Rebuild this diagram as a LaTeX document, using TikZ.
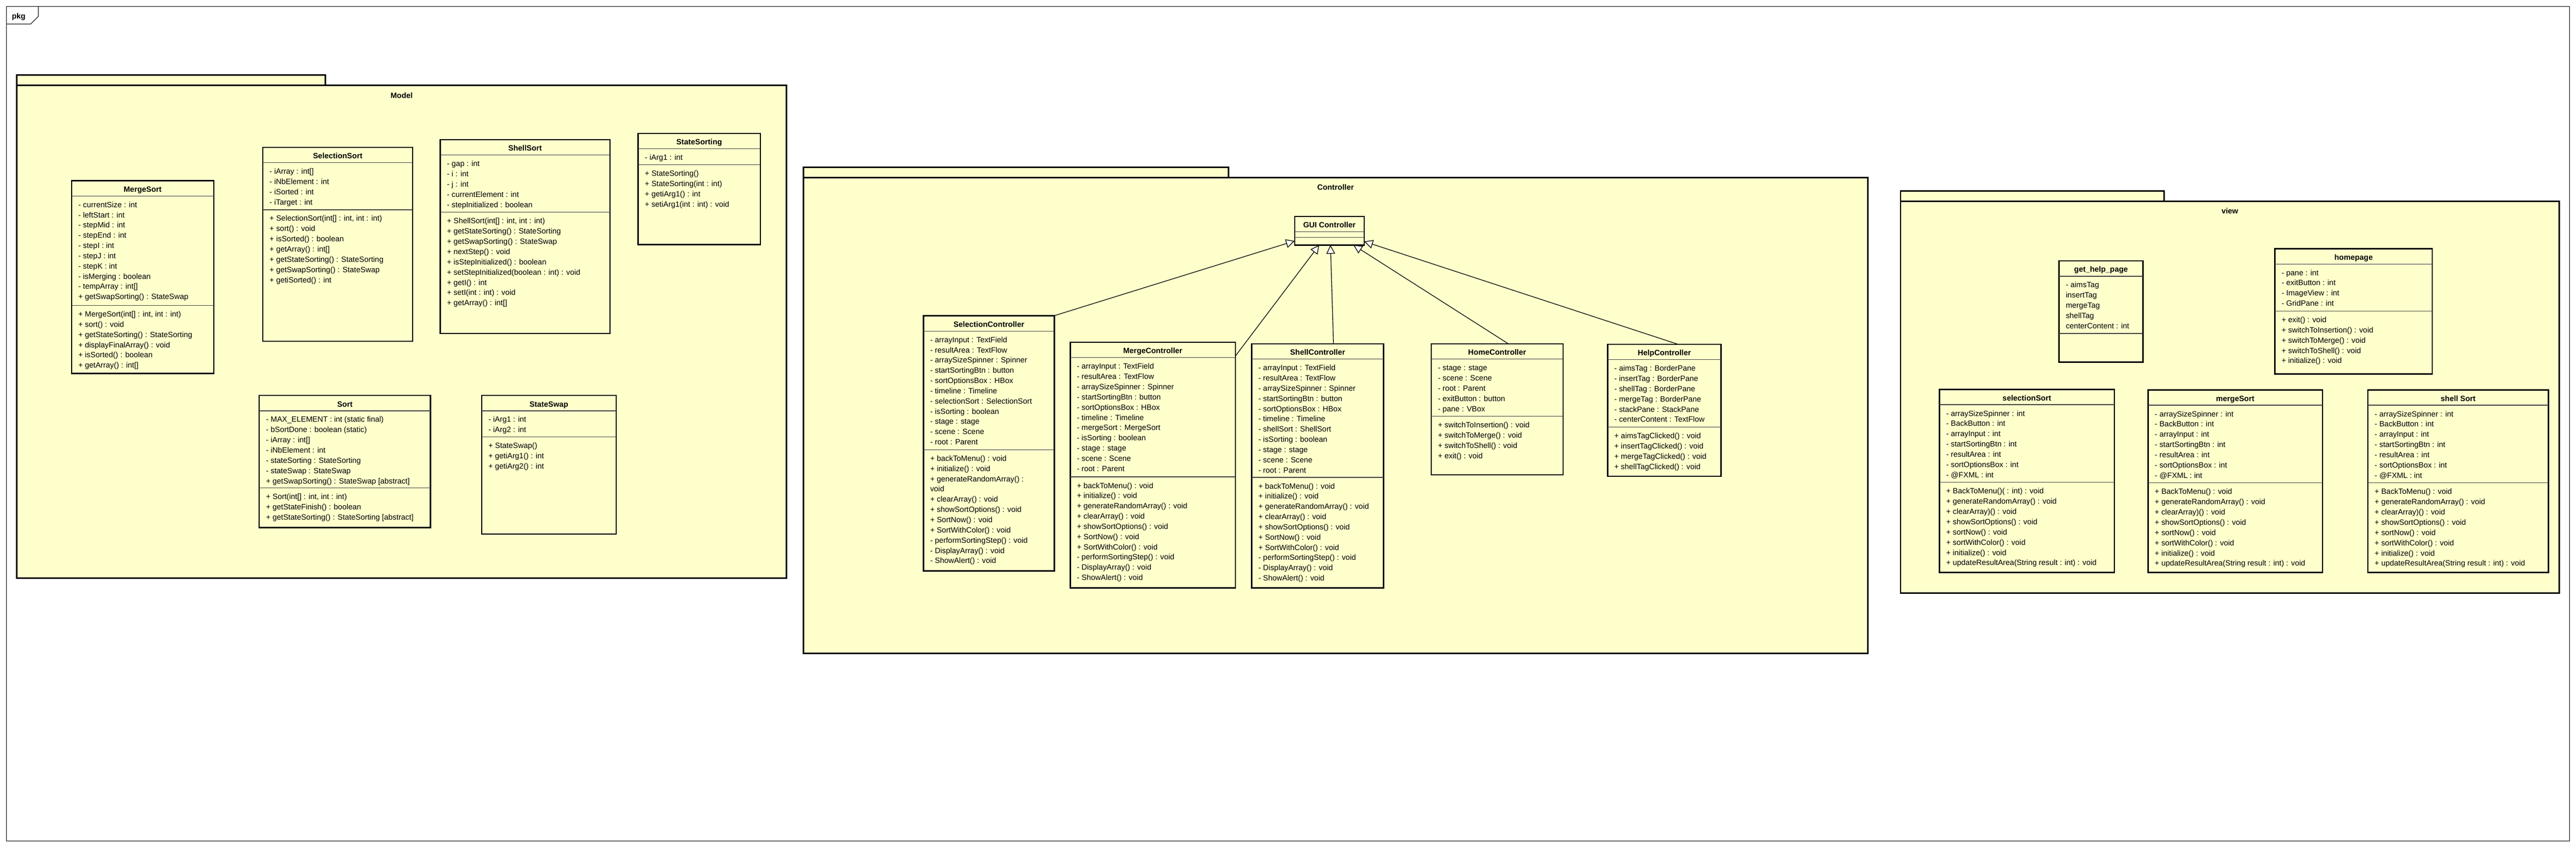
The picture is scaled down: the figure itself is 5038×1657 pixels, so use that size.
\documentclass[tikz,border=0pt]{standalone}
\usepackage{fontspec}
\setmainfont{Liberation Sans}
\usetikzlibrary{arrows.meta}
\definecolor{umlyellow}{RGB}{255,255,204}
\tikzset
{
    classbox/.style   = {rectangle, draw=black, line width=2.6pt, fill=umlyellow, anchor=north west, inner sep=0pt, outer sep=0pt},
    classtitle/.style = {anchor=base, inner sep=0pt, font=\fontsize{15}{20}\selectfont\bfseries},
    members/.style    = {anchor=north west, align=left, inner sep=0pt, font=\fontsize{15}{20}\selectfont},
    sepline/.style    = {draw=black!75, line width=1.2pt},
    pkgbody/.style    = {rectangle, draw=black, line width=3pt, fill=umlyellow, anchor=north west, inner sep=0pt, outer sep=0pt},
    pkglabel/.style   = {anchor=base, inner sep=0pt, font=\fontsize{15}{20}\selectfont\bfseries},
    generalize/.style = {line width=1.3pt, -{Triangle[open, fill=white, length=17pt, width=17pt]}}
}

\begin{document}
\begin{tikzpicture}[x=1pt, y=1pt]

   % name, top left, width, height, title, second separator, attributes, operations
   \newcommand\umlclass[8]{%
      \node (#1) [classbox, minimum width=#3, minimum height=#4] at #2 {};
      \node [classtitle] at ([yshift=-22]#1.north) {#5};
      \draw [sepline] ([yshift=-30]#1.north west) -- ([yshift=-30]#1.north east);
      \draw [sepline] ([yshift=-#6]#1.north west) -- ([yshift=-#6]#1.north east);
      \node [members] at ([xshift=13, yshift=-38]#1.north west) {\rule{0pt}{14pt}#7};
      \node [members] at ([xshift=13, yshift=-#6-8]#1.north west) {\rule{0pt}{14pt}#8};
   }

   \fill [white] (0,0) rectangle (5038,-1657);

   \node (frame) [draw=black, line width=1pt, anchor=north west, minimum width=5012, minimum height=1631, inner sep=0pt, outer sep=0pt] at (13,-13) {};
   \draw [line width=1pt] (13,-47) -- (60,-47) -- (75,-32) -- (75,-13);
   \node (pkg) [pkglabel, anchor=base west] at (23,-37) {pkg};

   %% packages
   \node (modeltab)  [pkgbody, minimum width=603,  minimum height=20]  at (33,-147)   {};
   \node (model)     [pkgbody, minimum width=1505, minimum height=963] at (33,-167)   {};
   \node [pkglabel] at ([yshift=-24.5]model.north) {Model};

   \node (ctrltab)   [pkgbody, minimum width=832,  minimum height=20]  at (1571,-327) {};
   \node (ctrl)      [pkgbody, minimum width=2082, minimum height=930] at (1571,-347) {};
   \node [pkglabel] at ([yshift=-24.5]ctrl.north) {Controller};

   \node (viewtab)   [pkgbody, minimum width=515,  minimum height=20]  at (3717,-373) {};
   \node (view)      [pkgbody, minimum width=1288, minimum height=766] at (3717,-393) {};
   \node [pkglabel] at ([yshift=-24.5]view.north) {view};

   %% Model
   \umlclass{mergesort}{(140,-353)}{278}{377}{MergeSort}{244}
      {- currentSize : int\\- leftStart : int\\- stepMid : int\\- stepEnd : int\\- stepI : int\\- stepJ : int\\- stepK : int\\- isMerging : boolean\\- tempArray : int[]\\+ getSwapSorting() : StateSwap}
      {+ MergeSort(int[] : int, int : int)\\+ sort() : void\\+ getStateSorting() : StateSorting\\+ displayFinalArray() : void\\+ isSorted() : boolean\\+ getArray() : int[]}
   \umlclass{selectionsort}{(514,-288)}{293}{379}{SelectionSort}{122}
      {- iArray : int[]\\- iNbElement : int\\- iSorted : int\\- iTarget : int}
      {+ SelectionSort(int[] : int, int : int)\\+ sort() : void\\+ isSorted() : boolean\\+ getArray() : int[]\\+ getStateSorting() : StateSorting\\+ getSwapSorting() : StateSwap\\+ getiSorted() : int}
   \umlclass{shellsort}{(861,-273)}{332}{379}{ShellSort}{142}
      {- gap : int\\- i : int\\- j : int\\- currentElement : int\\- stepInitialized : boolean}
      {+ ShellSort(int[] : int, int : int)\\+ getStateSorting() : StateSorting\\+ getSwapSorting() : StateSwap\\+ nextStep() : void\\+ isStepInitialized() : boolean\\+ setStepInitialized(boolean : int) : void\\+ getI() : int\\+ setI(int : int) : void\\+ getArray() : int[]}
   \umlclass{statesorting}{(1248,-261)}{239}{217}{StateSorting}{61}
      {- iArg1 : int}
      {+ StateSorting()\\+ StateSorting(int : int)\\+ getiArg1() : int\\+ setiArg1(int : int) : void}
   \umlclass{sort}{(507,-773)}{335}{258}{Sort}{181}
      {- MAX\_ELEMENT : int (static final)\\- bSortDone : boolean (static)\\- iArray : int[]\\- iNbElement : int\\- stateSorting : StateSorting\\- stateSwap : StateSwap\\+ getSwapSorting() : StateSwap [abstract]}
      {+ Sort(int[] : int, int : int)\\+ getStateFinish() : boolean\\+ getStateSorting() : StateSorting [abstract]}
   \umlclass{stateswap}{(942,-773)}{263}{271}{StateSwap}{81}
      {- iArg1 : int\\- iArg2 : int}
      {+ StateSwap()\\+ getiArg1() : int\\+ getiArg2() : int}

   %% Controller
   \umlclass{gui}{(2532,-423)}{136}{56}{GUI Controller}{41}{}{}
   \umlclass{selcontroller}{(1806,-617)}{256}{499}{SelectionController}{262}
      {- arrayInput : TextField\\- resultArea : TextFlow\\- arraySizeSpinner : Spinner\\- startSortingBtn : button\\- sortOptionsBox : HBox\\- timeline : Timeline\\- selectionSort : SelectionSort\\- isSorting : boolean\\- stage : stage\\- scene : Scene\\- root : Parent}
      {+ backToMenu() : void\\+ initialize() : void\\+ generateRandomArray() :\\void\\+ clearArray() : void\\+ showSortOptions() : void\\+ SortNow() : void\\+ SortWithColor() : void\\- performSortingStep() : void\\- DisplayArray() : void\\- ShowAlert() : void}
   \umlclass{mergecontroller}{(2093,-669)}{323}{480}{MergeController}{263}
      {- arrayInput : TextField\\- resultArea : TextFlow\\- arraySizeSpinner : Spinner\\- startSortingBtn : button\\- sortOptionsBox : HBox\\- timeline : Timeline\\- mergeSort : MergeSort\\- isSorting : boolean\\- stage : stage\\- scene : Scene\\- root : Parent}
      {+ backToMenu() : void\\+ initialize() : void\\+ generateRandomArray() : void\\+ clearArray() : void\\+ showSortOptions() : void\\+ SortNow() : void\\+ SortWithColor() : void\\- performSortingStep() : void\\- DisplayArray() : void\\- ShowAlert() : void}
   \umlclass{shellcontroller}{(2448,-672)}{258}{477}{ShellController}{261}
      {- arrayInput : TextField\\- resultArea : TextFlow\\- arraySizeSpinner : Spinner\\- startSortingBtn : button\\- sortOptionsBox : HBox\\- timeline : Timeline\\- shellSort : ShellSort\\- isSorting : boolean\\- stage : stage\\- scene : Scene\\- root : Parent}
      {+ backToMenu() : void\\+ initialize() : void\\+ generateRandomArray() : void\\+ clearArray() : void\\+ showSortOptions() : void\\+ SortNow() : void\\+ SortWithColor() : void\\- performSortingStep() : void\\- DisplayArray() : void\\- ShowAlert() : void}
   \umlclass{homecontroller}{(2799,-672)}{258}{256}{HomeController}{142}
      {- stage : stage\\- scene : Scene\\- root : Parent\\- exitButton : button\\- pane : VBox}
      {+ switchToInsertion() : void\\+ switchToMerge() : void\\+ switchToShell() : void\\+ exit() : void}
   \umlclass{helpcontroller}{(3144,-673)}{222}{258}{HelpController}{162}
      {- aimsTag : BorderPane\\- insertTag : BorderPane\\- shellTag : BorderPane\\- mergeTag : BorderPane\\- stackPane : StackPane\\- centerContent : TextFlow}
      {+ aimsTagClicked() : void\\+ insertTagClicked() : void\\+ mergeTagClicked() : void\\+ shellTagClicked() : void}

   %% view
   \umlclass{gethelppage}{(4027,-510)}{164}{198}{get\_help\_page}{142}
      {- aimsTag\\insertTag\\mergeTag\\shellTag\\centerContent : int}{}
   \umlclass{homepage}{(4449,-486)}{308}{245}{homepage}{122}
      {- pane : int\\- exitButton : int\\- ImageView : int\\- GridPane : int}
      {+ exit() : void\\+ switchToInsertion() : void\\+ switchToMerge() : void\\+ switchToShell() : void\\+ initialize() : void}
   \umlclass{selectionview}{(3793,-761)}{342}{358}{selectionSort}{182}
      {- arraySizeSpinner : int\\- BackButton : int\\- arrayInput : int\\- startSortingBtn : int\\- resultArea : int\\- sortOptionsBox : int\\- @FXML : int}
      {+ BackToMenu()( : int) : void\\+ generateRandomArray() : void\\+ clearArray)() : void\\+ showSortOptions() : void\\+ sortNow() : void\\+ sortWithColor() : void\\+ initialize() : void\\+ updateResultArea(String result : int) : void}
   \umlclass{mergeview}{(4201,-762)}{341}{357}{mergeSort}{182}
      {- arraySizeSpinner : int\\- BackButton : int\\- arrayInput : int\\- startSortingBtn : int\\- resultArea : int\\- sortOptionsBox : int\\- @FXML : int}
      {+ BackToMenu() : void\\+ generateRandomArray() : void\\+ clearArray)() : void\\+ showSortOptions() : void\\+ sortNow() : void\\+ sortWithColor() : void\\+ initialize() : void\\+ updateResultArea(String result : int) : void}
   \umlclass{shellview}{(4631,-762)}{353}{357}{shell Sort}{182}
      {- arraySizeSpinner : int\\- BackButton : int\\- arrayInput : int\\- startSortingBtn : int\\- resultArea : int\\- sortOptionsBox : int\\- @FXML : int}
      {+ BackToMenu() : void\\+ generateRandomArray() : void\\+ clearArray)() : void\\+ showSortOptions() : void\\+ sortNow() : void\\+ sortWithColor() : void\\+ initialize() : void\\+ updateResultArea(String result : int) : void}

   \path
      (selcontroller.north east)          edge[generalize]  ([yshift=8]gui.south west)
      (mergecontroller)                   edge[generalize]  ([xshift=-20]gui.south)
      ([xshift=31]shellcontroller.north)  edge[generalize]  ([xshift=2]gui.south)
      ([xshift=22]homecontroller.north)   edge[generalize]  ([xshift=47]gui.south)
      ([xshift=27]helpcontroller.north)   edge[generalize]  ([yshift=7]gui.south east);

\end{tikzpicture}
\end{document}
